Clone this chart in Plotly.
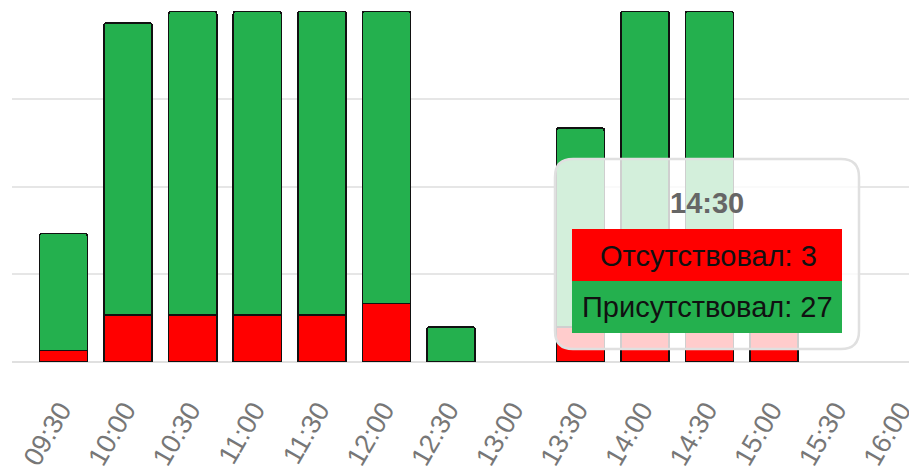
import plotly.graph_objects as go

# ---- data ----
times = ["09:30", "10:00", "10:30", "11:00", "11:30", "12:00", "12:30",
         "13:00", "13:30", "14:00", "14:30", "15:00", "15:30", "16:00"]
absent = [1, 4, 4, 4, 4, 5, 0, 0, 3, 3, 3, 3, 0, 0]
present = [10, 25, 26, 26, 26, 25, 3, 0, 17, 27, 27, 0, 0, 0]
absent_name = "Отсутствовал"
present_name = "Присутствовал"
tip_label = "14:30"

RED = "#ff0000"
GREEN = "#24b04e"
FONT = "Liberation Sans, Arial, sans-serif"

OFF = 8  # default page body margin
W, H = 917 - OFF, 474 - OFF
ML, MR, MT, MB = 12 - OFF, 0, 11 - OFF, 112
PW, PH = W - ML - MR, H - MT - MB


def blank_zero(vals):
    return [v if v else None for v in vals]


fig = go.Figure()
fig.add_bar(x=times, y=blank_zero(absent), name=absent_name, marker_color=RED,
            marker_line=dict(color="#111", width=1.6), width=0.745)
fig.add_bar(x=times, y=blank_zero(present), name=present_name, marker_color=GREEN,
            marker_line=dict(color="#111", width=1.6), width=0.745)


def px(x):
    return (x - OFF - ML) / PW


def py(y):
    return (MT + PH - (y - OFF)) / PH


def rounded_path(x0, y0, x1, y1, r):
    rx = r / PW
    ry = r / PH
    X0, X1 = px(x0), px(x1)
    Y0, Y1 = py(y0), py(y1)  # Y0 top, Y1 bottom
    return (f"M {X0+rx},{Y0} L {X1-rx},{Y0} Q {X1},{Y0} {X1},{Y0-ry} "
            f"L {X1},{Y1+ry} Q {X1},{Y1} {X1-rx},{Y1} "
            f"L {X0+rx},{Y1} Q {X0},{Y1} {X0},{Y1+ry} "
            f"L {X0},{Y0-ry} Q {X0},{Y0} {X0+rx},{Y0} Z")


idx = times.index(tip_label)
shapes = [
    dict(type="path", xref="paper", yref="paper", layer="above",
         path=rounded_path(555, 159, 859, 349, 18),
         fillcolor="rgba(255,255,255,0.8)",
         line=dict(color="#e0e0e0", width=2.5)),
    dict(type="rect", xref="paper", yref="paper", layer="above",
         x0=px(572), x1=px(842), y0=py(229), y1=py(281),
         fillcolor=RED, line=dict(width=0)),
    dict(type="rect", xref="paper", yref="paper", layer="above",
         x0=px(572), x1=px(842), y0=py(281), y1=py(333),
         fillcolor=GREEN, line=dict(width=0)),
]
ann_common = dict(xref="paper", yref="paper", showarrow=False,
                  xanchor="center", yanchor="middle")
annotations = [
    dict(x=px(707), y=py(203), text=f"<b>{tip_label}</b>",
         font=dict(size=29, color="#666", family=FONT), **ann_common),
    dict(x=px(708), y=py(256), text=f"{absent_name}: {absent[idx]}",
         font=dict(size=29, color="#111", family=FONT), **ann_common),
    dict(x=px(707), y=py(307), text=f"{present_name}: {present[idx]}",
         font=dict(size=29, color="#111", family=FONT), **ann_common),
]

fig.update_layout(
    width=W, height=H,
    margin=dict(l=ML, r=MR, t=MT, b=MB, pad=0, autoexpand=False),
    barmode="stack",
    barcornerradius=3,
    showlegend=False,
    plot_bgcolor="white", paper_bgcolor="white",
    font=dict(family=FONT),
    shapes=shapes,
    annotations=annotations,
    xaxis=dict(type="category", range=[-0.797, 13.21], tickangle=-60,
               tickfont=dict(size=27, color="#777", family=FONT),
               showgrid=False, showline=False, ticks="",
               ticklabelstandoff=26, ticklabelshift=-3,
               automargin=False),
    yaxis=dict(range=[0, 30], tick0=0, dtick=7.5, showticklabels=False,
               gridcolor="#e6e6e6", gridwidth=2, zeroline=True,
               zerolinecolor="#e0e0e0", zerolinewidth=2, fixedrange=True,
               automargin=False),
)

fig.write_html("out.html")
